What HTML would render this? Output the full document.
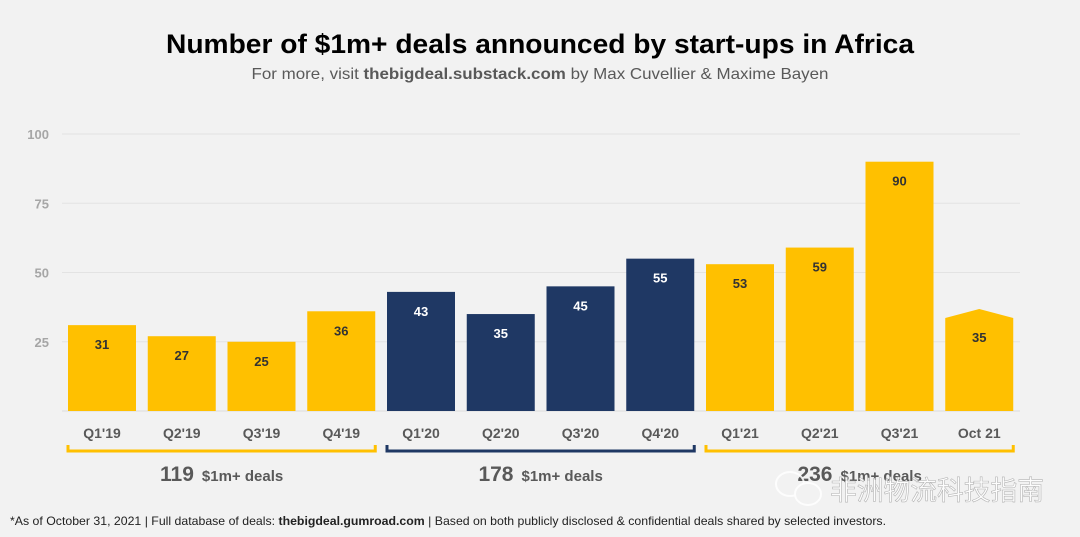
<!DOCTYPE html>
<html><head><meta charset="utf-8"><style>
html,body{margin:0;padding:0;background:#f2f2f2;}
svg{display:block;font-family:"Liberation Sans","Noto Sans CJK SC",sans-serif;}
</style></head><body>
<svg id="chart" width="1080" height="537" viewBox="0 0 1080 537">
<rect width="1080" height="537" fill="#f2f2f2"/>
<text x="540" y="53" text-anchor="middle" font-size="27" font-weight="bold" fill="#000" textLength="748" lengthAdjust="spacingAndGlyphs">Number of $1m+ deals announced by start-ups in Africa</text>
<text x="540" y="79" text-anchor="middle" font-size="16" fill="#595959" textLength="577" lengthAdjust="spacingAndGlyphs">For more, visit <tspan font-weight="bold">thebigdeal.substack.com</tspan> by Max Cuvellier &amp; Maxime Bayen</text>
<g id="grid"></g>
<g id="bars"></g>
<g id="brackets"></g>
<text x="10" y="525" font-size="12" fill="#222" textLength="876" lengthAdjust="spacingAndGlyphs">*As of October 31, 2021 | Full database of deals: <tspan font-weight="bold">thebigdeal.gumroad.com</tspan> | Based on both publicly disclosed &amp; confidential deals shared by selected investors.</text>
<g opacity="0.85">
<ellipse cx="790" cy="484" rx="14" ry="12" fill="none" stroke="#fff" stroke-width="2"/>
<ellipse cx="808" cy="494" rx="13" ry="11" fill="#f2f2f2" stroke="#fff" stroke-width="2"/>
<text x="830" y="500" font-size="27" fill="#fff" stroke="#aaa" stroke-width="0.6" textLength="214" lengthAdjust="spacingAndGlyphs" font-family="'Noto Sans CJK SC',sans-serif">非洲物流科技指南</text>
</g>
</svg>
<script>
const categories=["Q1'19","Q2'19","Q3'19","Q4'19","Q1'20","Q2'20","Q3'20","Q4'20","Q1'21","Q2'21","Q3'21","Oct 21"];
const values=[31,27,25,36,43,35,45,55,53,59,90,35];
const years=[2019,2019,2019,2019,2020,2020,2020,2020,2021,2021,2021,2021];
const yTicks=[25,50,75,100];
const totals=[119,178,236];
const NS="http://www.w3.org/2000/svg";
const base=411, pxPer=2.77, x0=62, pitch=79.75, bw=68;
const y=v=>base-v*pxPer;
const xc=i=>x0+6+bw/2+i*pitch;
function mk(tag,attrs,parent,text){const e=document.createElementNS(NS,tag);for(const k in attrs)e.setAttribute(k,attrs[k]);if(text!==undefined)e.textContent=text;parent.appendChild(e);return e;}
const grid=document.getElementById('grid');
yTicks.forEach(t=>{
  const l=mk('line',{x1:62,x2:1020,y1:y(t),y2:y(t),stroke:'#e3e3e3','stroke-width':1},grid);
  
  
  const tx=mk('text',{x:49,y:y(t)+5,'text-anchor':'end','font-size':13,fill:'#a6a6a6','font-weight':'bold'},grid,String(t));
  
  
});
const bl=mk('line',{x1:62,x2:1020,y1:base,y2:base,stroke:'#dcdcdc','stroke-width':1},grid);


const bars=document.getElementById('bars');
const colorFor=yr=>yr===2020?'#1f3864':'#ffc000';
categories.forEach((c,i)=>{
  const cx=xc(i), v=values[i], last=i===categories.length-1;
  let el;
  if(last){
    const side=y(v)+4, peak=y(v)-5;
    el=mk('path',{d:`M${cx-bw/2},${base}V${side}L${cx},${peak}L${cx+bw/2},${side}V${base}Z`,fill:colorFor(years[i])},bars);
  }else{
    el=mk('rect',{x:cx-bw/2,y:y(v),width:bw,height:base-y(v),fill:colorFor(years[i])},bars);
  }
  
  
  const lab=mk('text',{x:cx,y:(last?y(v)+4:y(v))+24,'text-anchor':'middle','font-size':13,'font-weight':'bold',fill:years[i]===2020?'#fff':'#333'},bars,String(v));
  
  
  const xl=mk('text',{x:cx,y:438,'text-anchor':'middle','font-size':14,'font-weight':'bold',fill:'#595959'},bars,c);
  
  
});
const br=document.getElementById('brackets');
const brColors=['#ffc000','#1f3864','#ffc000'];
totals.forEach((t,g)=>{
  const l=xc(g*4)-bw/2, r=xc(g*4+3)+bw/2;
  const p=mk('path',{d:`M${l},445V451H${r}V445`,fill:'none',stroke:brColors[g],'stroke-width':3},br);
  
  
  const mid=(l+r)/2;
  const tx=mk('text',{x:mid,y:481,'text-anchor':'middle',fill:'#595959','font-weight':'bold'},br);
  
  
  mk('tspan',{'font-size':21},tx,String(t));
  mk('tspan',{'font-size':15,dx:8},tx,'$1m+ deals');
});
</script>
</body></html>
